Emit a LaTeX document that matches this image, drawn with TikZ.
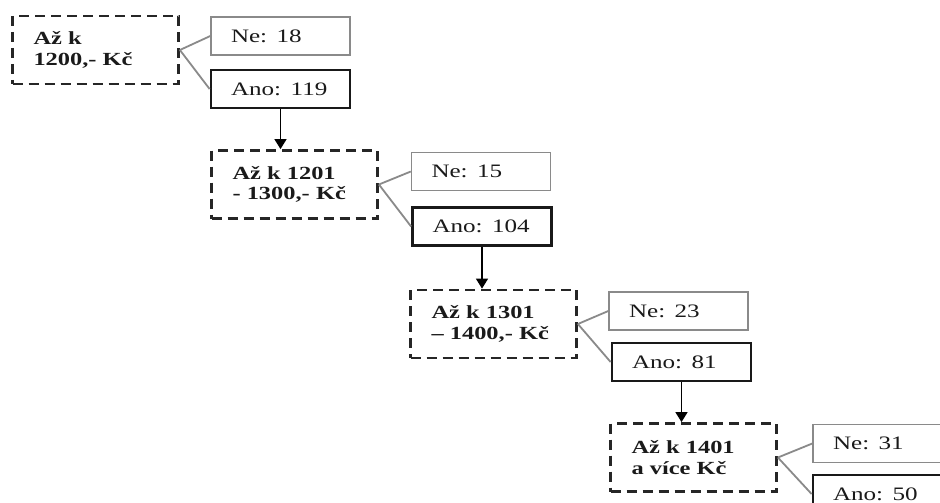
\documentclass[tikz,border=0pt]{standalone}
\usepackage{fontspec}
\setmainfont{Liberation Serif}[FakeStretch=1.32, WordSpace=0.7]
\usetikzlibrary{arrows.meta}
\definecolor{txt}{HTML}{1A1A1A}
\definecolor{lgray}{HTML}{8A8A8A}
\tikzset{
  rangebox/.style={draw=black!85, line width=2.8pt, dash pattern=on 10pt off 6pt,
    minimum width=166pt, minimum height=68pt, inner xsep=19pt, text width=124pt,
    align=left, text=txt, font=\fontsize{18.5}{20.5}\selectfont\bfseries},
  nebox/.style={draw=lgray, line width=1.4pt, minimum width=139pt, minimum height=38pt,
    inner xsep=18pt, text width=99pt, align=left, text=txt, font=\fontsize{19}{21}\selectfont},
  anobox/.style={nebox, draw=black!90, line width=2.8pt},
  link/.style={draw=lgray, line width=1.8pt},
  arr/.style={draw=black, line width=1.5pt, -{Triangle[length=10pt,width=12pt]}}
}
\begin{document}
\begin{tikzpicture}[x=1pt,y=-1pt]
\clip (0,0) rectangle (940,503);
\fill[white] (0,0) rectangle (940,503);
% block 1
\node[rangebox] (b1) at (95.5,50) {Až k\\1200,- Kč};
\node[nebox] (n1) at (280.5,36) {Ne: 18};
\node[anobox] (a1) at (280.5,89) {Ano: 119};
% block 2
\node[rangebox] (b2) at (294.5,184.5) {Až k 1201\\- 1300,- Kč};
\node[nebox] (n2) at (481,171.5) {Ne: 15};
\node[anobox] (a2) at (482,226.5) {Ano: 104};
% block 3
\node[rangebox] (b3) at (493.5,324) {Až k 1301\\– 1400,- Kč};
\node[nebox] (n3) at (678.5,311) {Ne: 23};
\node[anobox] (a3) at (681.5,362) {Ano: 81};
% block 4
\node[rangebox] (b4) at (693.5,457.5) {Až k 1401\\a více Kč};
\node[nebox] (n4) at (882.5,443.5) {Ne: 31};
\node[anobox] (a4) at (882.5,494) {Ano: 50};
% links
\foreach \b/\n/\a in {b1/n1/a1, b2/n2/a2, b3/n3/a3, b4/n4/a4}{
  \draw[link] (\b.east) -- (\n.west);
  \draw[link] (\b.east) -- (\a.west);
}
% arrows
\draw[arr] (a1.south) -- (a1.south |- b2.north);
\draw[arr] (a2.south) -- (a2.south |- b3.north);
\draw[arr] (a3.south) -- (a3.south |- b4.north);
\end{tikzpicture}
\end{document}
